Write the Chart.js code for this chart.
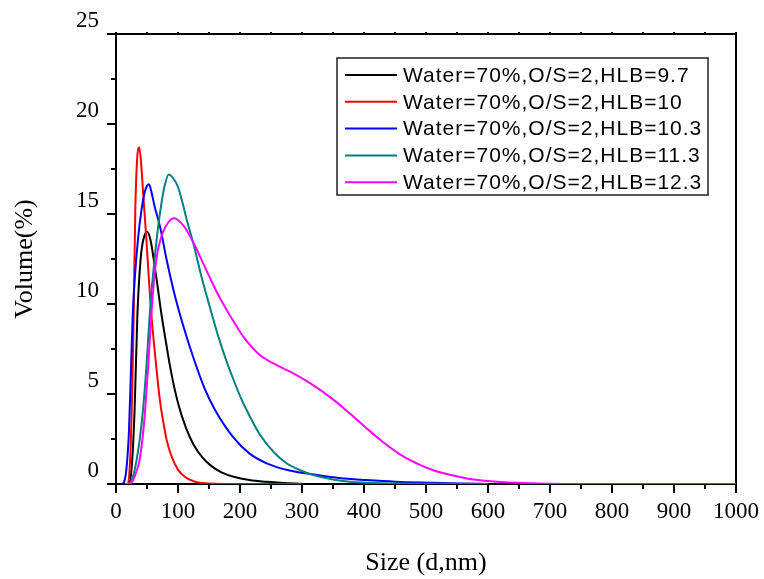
<!DOCTYPE html>
<html lang="en">
<head>
<meta charset="UTF-8" />
<title>Size distribution</title>
<script src="https://cdn.jsdelivr.net/npm/chart.js"></script>
<style>
  body {
    margin: 0;
    background: #fff;
  }
  #wrap {
    width: 764px;
    height: 579px;
  }
</style>
</head>
<body>

<div id="wrap">
  <canvas id="sizeChart" width="764" height="579"></canvas>
</div>

<script>
  // data (size in nm, volume in %)
  const labels = [
    'Water=70%,O/S=2,HLB=9.7',
    'Water=70%,O/S=2,HLB=10',
    'Water=70%,O/S=2,HLB=10.3',
    'Water=70%,O/S=2,HLB=11.3',
    'Water=70%,O/S=2,HLB=12.3'
  ];
  const colors = ['#000000', '#ff0000', '#0000ff', '#008080', '#ff00ff'];

  const blackSize = [15, 20, 25, 30, 34.5, 40, 45, 50.5, 56, 62, 67, 73, 80, 89, 100, 113, 125, 140, 152, 170, 190, 215, 243, 270, 300];
  const blackVol  = [0, 0, 0.8, 4.1, 9.4, 12.6, 13.7, 14.0, 13.5, 12.2, 11.0, 9.5, 8.0, 6.2, 4.5, 3.1, 2.2, 1.45, 1.05, 0.65, 0.4, 0.22, 0.12, 0.06, 0.02];

  const redSize = [15, 19, 23, 26, 28.5, 31, 34, 37.6, 41, 43.5, 49, 53, 57, 61, 65, 71, 77, 82, 90, 100, 111, 125, 140, 160, 200, 300];
  const redVol  = [0, 0, 1.5, 5, 9.3, 15, 18, 18.7, 17.6, 16.3, 13.6, 11.4, 9.4, 7.9, 6.5, 4.6, 3.3, 2.4, 1.5, 0.8, 0.4, 0.15, 0.05, 0.01, 0, 0];

  const blueSize = [10, 13, 17, 21, 24, 27, 30, 35.5, 41, 47, 53.2, 58, 62.4, 71, 82, 92.5, 100, 111, 125, 143, 160, 189, 215, 243, 280, 324, 360, 404, 450, 511, 560, 600];
  const blueVol  = [0, 0.1, 0.9, 3, 6.2, 9.4, 11.3, 13.6, 15.2, 16.3, 16.65, 16.1, 15.4, 14.3, 12.4, 10.8, 9.8, 8.5, 7.0, 5.3, 4.1, 2.6, 1.7, 1.15, 0.75, 0.5, 0.33, 0.22, 0.13, 0.07, 0.03, 0];

  const tealSize = [15, 20, 25, 29, 33, 38, 43.5, 49, 54, 58, 62, 66.6, 72, 78, 85, 92, 100, 106, 114, 124.7, 138, 151.6, 165, 178.5, 190, 200, 210, 232, 255, 275, 300, 318, 350, 377, 420, 470, 530, 600];
  const tealVol  = [0, 0, 0.2, 0.6, 1.3, 2.4, 4.1, 6.5, 9.2, 11.0, 12.4, 13.9, 15.3, 16.5, 17.2, 17.0, 16.5, 15.8, 14.7, 13.37, 11.5, 9.8, 8.2, 6.8, 5.75, 4.9, 4.15, 2.75, 1.75, 1.15, 0.72, 0.5, 0.25, 0.13, 0.05, 0.02, 0.01, 0];

  const pinkSize = [15, 20, 24, 27.5, 32, 38, 43, 47, 52, 57, 62.4, 67, 72, 80, 93.5, 110, 125, 140, 151.6, 165, 178.5, 192, 205, 218, 232, 259, 286, 313, 350, 375, 404, 430, 458, 485, 512, 540, 566, 600, 646, 700, 800, 900, 1000];
  const pinkVol  = [0, 0, 0.05, 0.22, 0.6, 1.33, 2.6, 4.1, 6.6, 9.4, 11.7, 12.9, 13.6, 14.3, 14.76, 14.3, 13.4, 12.3, 11.45, 10.5, 9.67, 8.9, 8.2, 7.65, 7.17, 6.6, 6.15, 5.6, 4.7, 3.98, 3.1, 2.35, 1.65, 1.15, 0.76, 0.5, 0.31, 0.17, 0.07, 0.02, 0, 0, 0];

  const xTicks = [0, 100, 200, 300, 400, 500, 600, 700, 800, 900, 1000];
  const yTicks = [0, 5, 10, 15, 20, 25];

  const sizes = [blackSize, redSize, blueSize, tealSize, pinkSize];
  const vols = [blackVol, redVol, blueVol, tealVol, pinkVol];

  const serif = '"Liberation Serif", "Times New Roman", serif';

  // frame, tick marks and the boxed legend
  const framePlugin = {
    id: 'frame',
    beforeDatasetsDraw(chart) {
      const { ctx, chartArea: a, scales } = chart;
      ctx.save();
      ctx.strokeStyle = '#000';
      ctx.lineWidth = 2;
      ctx.strokeRect(a.left, a.top, a.right - a.left, a.bottom - a.top);
      ctx.beginPath();
      for (let v = 0; v <= 25; v += 2.5) {
        const y = Math.round(scales.y.getPixelForValue(v));
        const len = v % 5 === 0 ? 9 : 5;
        ctx.moveTo(a.left - len, y);
        ctx.lineTo(a.left, y);
      }
      for (let v = 0; v <= 1000; v += 50) {
        const x = Math.round(scales.x.getPixelForValue(v));
        const len = v % 100 === 0 ? 9 : 5;
        ctx.moveTo(x, a.bottom);
        ctx.lineTo(x, a.bottom + len);
        ctx.moveTo(x, a.top);
        ctx.lineTo(x, a.top - 2);
      }
      ctx.stroke();
      ctx.restore();
    },
    afterDraw(chart) {
      const { ctx } = chart;
      const boxX = 337, boxY = 58, boxW = 371, boxH = 137;
      ctx.save();
      ctx.fillStyle = '#fff';
      ctx.fillRect(boxX, boxY, boxW, boxH);
      ctx.strokeStyle = '#222';
      ctx.lineWidth = 1.5;
      ctx.strokeRect(boxX, boxY, boxW, boxH);
      ctx.font = '21px "Liberation Sans", Arial, sans-serif';
      ctx.letterSpacing = '1px';
      ctx.textBaseline = 'middle';
      ctx.fillStyle = '#000';
      chart.data.datasets.forEach((ds, i) => {
        const y = 75 + i * 26.8;
        ctx.strokeStyle = ds.borderColor;
        ctx.lineWidth = 2;
        ctx.beginPath();
        ctx.moveTo(345, y);
        ctx.lineTo(397, y);
        ctx.stroke();
        ctx.fillText(ds.label, 403, y + 1);
      });
      ctx.restore();
    }
  };

  const ctx = document.getElementById('sizeChart').getContext('2d');

  new Chart(ctx, {
    type: 'line',
    data: {
      datasets: labels.map((label, i) => ({
        label: label,
        data: sizes[i].map((s, j) => ({ x: s, y: vols[i][j] })),
        borderColor: colors[i],
        backgroundColor: colors[i],
        borderWidth: 2,
        pointRadius: 0,
        fill: false,
        cubicInterpolationMode: 'monotone',
        order: labels.length - i
      }))
    },
    options: {
      responsive: false,
      animation: false,
      layout: {
        padding: { left: 0, top: 34, right: 28, bottom: 0 }
      },
      plugins: {
        legend: { display: false },
        tooltip: { enabled: false }
      },
      scales: {
        x: {
          type: 'linear',
          min: 0,
          max: 1000,
          afterFit: (scale) => {
            scale.height = 95;
            scale.paddingLeft = 0;
            scale.paddingRight = 0;
          },
          afterBuildTicks: (scale) => { scale.ticks = xTicks.map(v => ({ value: v })); },
          grid: { display: false, drawTicks: false },
          border: { display: false },
          ticks: {
            color: '#000',
            padding: 14,
            maxRotation: 0,
            callback: (v) => String(v),
            font: { family: serif, size: 23 }
          },
          title: {
            display: true,
            text: 'Size (d,nm)',
            color: '#000',
            padding: { top: 0, bottom: 0 },
            font: { family: serif, size: 26 }
          }
        },
        y: {
          min: 0,
          max: 25,
          afterFit: (scale) => {
            scale.width = 116;
            scale.paddingTop = 0;
            scale.paddingBottom = 0;
          },
          afterBuildTicks: (scale) => { scale.ticks = yTicks.map(v => ({ value: v })); },
          grid: { display: false, drawTicks: false },
          border: { display: false },
          ticks: {
            color: '#000',
            padding: 17,
            labelOffset: -13,
            callback: (v) => String(v),
            font: { family: serif, size: 23 }
          },
          title: {
            display: true,
            text: 'Volume(%)',
            color: '#000',
            padding: { top: 10, bottom: 0 },
            font: { family: serif, size: 26 }
          }
        }
      }
    },
    plugins: [framePlugin]
  });
</script>

</body>
</html>
